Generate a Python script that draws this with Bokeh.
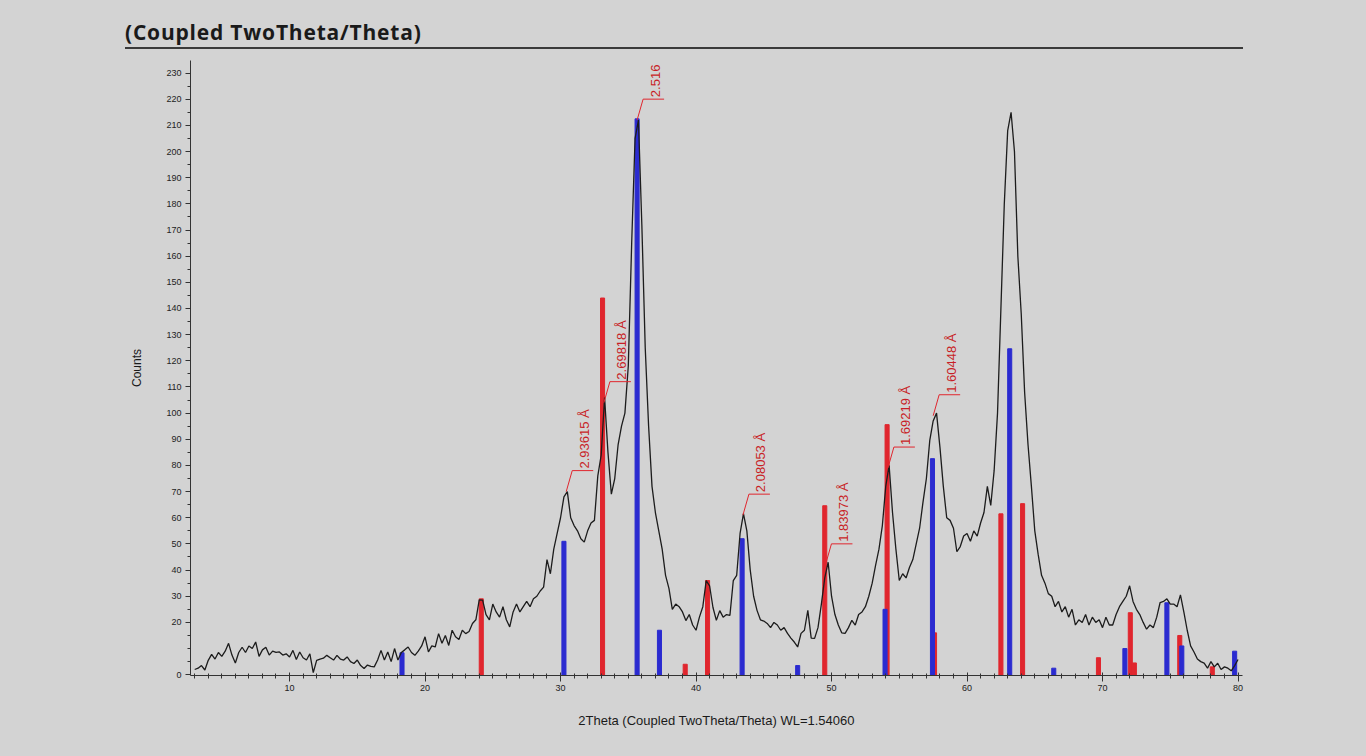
import math
from bokeh.plotting import figure
from bokeh.models import FixedTicker, Range1d, Div
from bokeh.layouts import column
from bokeh.embed import file_html
from bokeh.resources import INLINE
from bokeh.core.properties import value

# ---------------- data ----------------
scan_start = 3.0      # deg 2theta
scan_step = 0.25      # deg 2theta
counts = [
    2, 2.5, 3.5, 1.8, 5.5, 7.8, 6, 8.5, 7, 9,
    12, 7.5, 4.5, 8.5, 10.5, 8.5, 11, 10, 12.5, 7,
    9.5, 10.5, 7.5, 9, 8.5, 8.7, 7.5, 8, 6.8, 9.3,
    5.8, 8.7, 6.5, 5.6, 8, 0.8, 5.5, 6, 6.3, 7.4,
    6.5, 5.6, 7.4, 6, 5.6, 6.8, 5, 4.3, 5.6, 3.5,
    2.4, 3.7, 3.2, 3, 5.6, 9.3, 5.6, 8.7, 5, 10,
    5.6, 8.5, 9.5, 10.6, 8.5, 7.4, 9, 11, 14.5, 8.7,
    11, 10.6, 15.7, 12, 15, 11.2, 17, 14.5, 13.5, 17,
    15.7, 16.5, 19.6, 21, 28.6, 28.5, 23, 21, 27, 24,
    22, 26, 21, 18.3, 24, 27, 24, 26, 28, 26,
    29, 30, 32, 33.5, 44, 38.6, 48, 54, 60, 68,
    70, 60, 57, 55, 52, 50.7, 55, 58, 59, 76,
    84, 106, 85, 69, 75, 88, 95, 100, 118, 165,
    205, 212, 172, 125, 95, 72, 62, 55, 48, 38,
    33, 25, 27, 26, 24, 20.7, 23, 19, 17, 22,
    26, 36, 34, 25.7, 20.8, 24.5, 22, 23, 22.7, 36,
    38, 54, 61.6, 55, 40, 30, 24.6, 21, 20.5, 19.6,
    18, 20, 19, 17, 18, 15.8, 14, 12.5, 10.6, 15.8,
    17, 24.6, 14, 13.9, 18, 27, 37, 43, 30, 23,
    19, 16, 15.8, 18, 20.8, 19, 23, 24, 26, 30,
    35, 41.8, 48, 57, 72, 80, 62, 48, 36, 38.6,
    37, 41, 44, 50, 56, 66, 75, 89.6, 97, 100,
    87, 72, 60, 59, 56, 47, 49, 53, 54, 51,
    55, 53, 58, 62, 72, 64.7, 78, 100, 140, 180,
    208, 215, 200, 160, 138, 108, 88, 72, 55, 46,
    38, 35, 31, 30, 26, 28, 24, 26, 22, 25,
    19, 21, 20, 23, 19, 22, 20, 21, 18, 22,
    19, 19, 23, 26, 28, 30, 34, 28, 25, 23,
    20, 17.4, 19, 18, 22, 27.6, 28, 29, 27, 27,
    26, 30.5, 24, 17, 11, 8.7, 6, 5, 4.4, 2.5,
    5, 3, 4.4, 2, 3, 2.5, 1.5, 3.5, 5.8,
]
two_theta = [scan_start + scan_step * i for i in range(len(counts))]

# reference pattern 1 (red sticks)
red_2theta = [24.15, 33.1, 39.2, 40.85, 49.5, 54.1, 57.6, 62.5, 64.1, 69.7, 72.05, 72.35, 75.7, 78.1]
red_counts = [29, 144, 4, 36, 64.6, 95.6, 16, 61.5, 65.4, 6.5, 23.7, 4.5, 15, 3]

# reference pattern 2 (blue sticks)
blue_2theta = [18.3, 30.25, 35.65, 37.3, 43.4, 47.5, 53.95, 57.45, 63.15, 66.4, 71.65, 74.75, 75.85, 79.75]
blue_counts = [8.4, 51, 212.5, 17, 52, 3.5, 25, 82.6, 124.6, 2.5, 10, 27.5, 11, 9]

# d-spacing labels
peak_labels = ["2.93615 Å", "2.69818 Å", "2.516", "2.08053 Å", "1.83973 Å", "1.69219 Å", "1.60448 Å"]
peak_2theta = [30.42, 33.2, 35.65, 43.46, 49.55, 54.16, 57.5]
peak_counts = [70, 104, 212, 61, 42, 79, 99]

y_ticks = [0, 20, 30, 40, 50, 60, 70, 80, 90, 100, 110, 120, 130, 140, 150, 160,
           170, 180, 190, 200, 210, 220, 230]
x_ticks = [10, 20, 30, 40, 50, 60, 70, 80]

# ---------------- layout ----------------
BG = "#d3d3d3"
RED = "#e0262e"
BLUE = "#2b2bd0"
X0, X1 = 2.69, 80.33
Y0, Y1 = -0.3, 234.8
PAGE_W, PAGE_H = 1364, 754
DIV_H = 50
FW, FH = PAGE_W, PAGE_H - DIV_H
ML, MR, MT, MB = 190, PAGE_W - 1242, 60 - DIV_H, PAGE_H - 675
frame_w = FW - ML - MR
frame_h = FH - MT - MB
ppd = frame_w / (X1 - X0)
ppc = frame_h / (Y1 - Y0)

p = figure(width=FW, height=FH, output_backend="svg", toolbar_location=None,
           x_range=Range1d(X0, X1), y_range=Range1d(Y0, Y1),
           min_border_left=ML, min_border_right=MR, min_border_top=MT, min_border_bottom=MB)
p.background_fill_color = BG
p.border_fill_color = BG
p.outline_line_color = None
p.xgrid.visible = False
p.ygrid.visible = False

# sticks
p.vbar(x=red_2theta, top=red_counts, bottom=Y0, width=0.3, color=RED)
p.vbar(x=blue_2theta, top=blue_counts, bottom=Y0, width=0.3, color=BLUE)

# measured pattern
p.line(two_theta, counts, line_color="#1c1c1c", line_width=1.3)

# leaders + labels
knee_x = [x + 6 / ppd for x in peak_2theta]
knee_y = [y + 21 / ppc for y in peak_counts]
p.segment(x0=peak_2theta, y0=peak_counts, x1=knee_x, y1=knee_y, line_color=RED, line_width=1)
p.segment(x0=knee_x, y0=knee_y, x1=[x + 21 / ppd for x in knee_x], y1=knee_y,
          line_color=RED, line_width=1)
p.text(x=knee_x, y=knee_y, text=peak_labels, x_offset=12, y_offset=-2, angle=math.pi / 2,
       text_align="left", text_baseline="middle", text_color="#c81e26",
       text_font=value("Liberation Sans"), text_font_size="13px")

# axes
xa = p.xaxis[0]
xa.ticker = FixedTicker(ticks=x_ticks, minor_ticks=list(range(3, 81)))
xa.axis_label = "2Theta (Coupled TwoTheta/Theta) WL=1.54060"
ya = p.yaxis[0]
ya.ticker = FixedTicker(ticks=y_ticks, minor_ticks=list(range(0, 235, 5)))
ya.axis_label = "Counts"
for ax in (xa, ya):
    ax.axis_line_color = "#333333"
    ax.major_tick_line_color = "#333333"
    ax.minor_tick_line_color = "#333333"
    ax.major_label_text_font = "Liberation Sans"
    ax.major_label_text_font_size = "9px"
    ax.major_label_text_color = "#222222"
    ax.axis_label_text_font = "Liberation Sans"
    ax.axis_label_text_font_style = "normal"
    ax.axis_label_text_color = "#1a1a1a"
xa.major_tick_in = 3
xa.major_tick_out = 6
xa.minor_tick_in = 2
xa.minor_tick_out = 3
xa.major_label_standoff = 3
xa.axis_label_standoff = 19
xa.axis_label_text_font_size = "13px"
ya.major_tick_in = 0
ya.major_tick_out = 5
ya.minor_tick_in = 0
ya.minor_tick_out = 3
ya.major_label_standoff = 4
ya.axis_label_standoff = 19
ya.axis_label_text_font_size = "12px"

title_div = Div(
    text=('<div style="margin-left:125px;width:1118px;height:49px;box-sizing:border-box;'
          'border-bottom:2px solid #3a3a3a;padding-top:20px;font-family:\'Open Sans\';'
          'font-weight:bold;font-size:21px;letter-spacing:0.8px;line-height:24px;color:#1a1a1a;">'
          '(Coupled TwoTheta/Theta)</div>'),
    width=FW, height=DIV_H, margin=0, styles={"background-color": BG})

layout = column(title_div, p, spacing=0, styles={"background-color": BG})
html = file_html(layout, INLINE)
page_css = "<style>html, body { background-color: %s !important; }</style>" % BG
if "</head>" in html:
    html = html.replace("</head>", page_css + "</head>", 1)
else:
    html = page_css + html
open("out.html", "w").write(html)
